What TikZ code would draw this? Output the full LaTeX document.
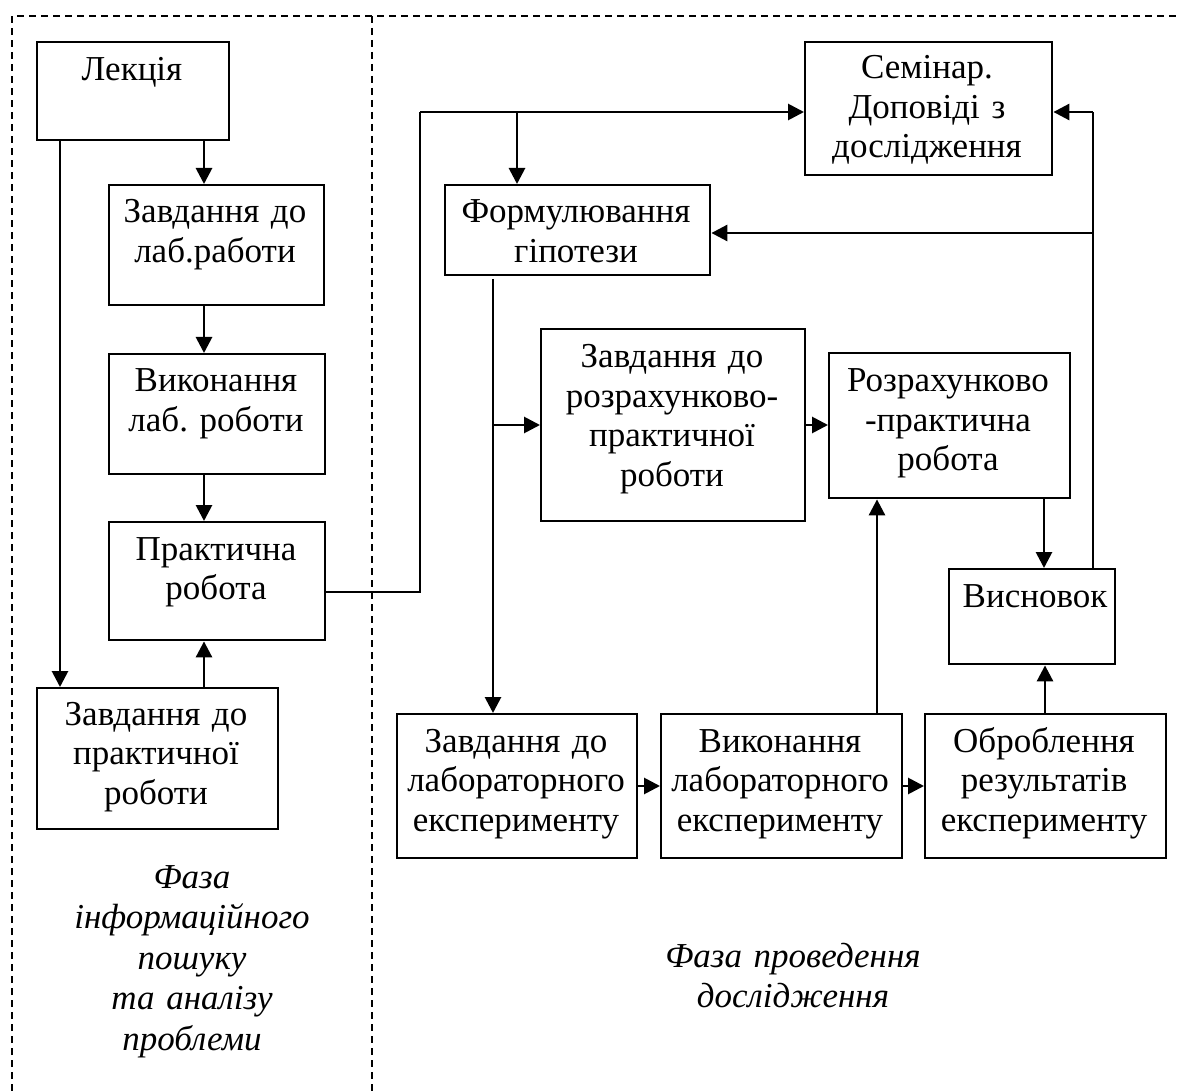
\documentclass[tikz,border=0pt]{standalone}
\usepackage{fontspec}
\setmainfont{Liberation Serif}
\usetikzlibrary{arrows.meta}
\frenchspacing
\begin{document}
\begin{tikzpicture}[x=1pt,y=-1pt,
  box/.style={draw, line width=2.4pt, inner sep=0pt, anchor=north west},
  txt/.style={inner sep=0pt, anchor=base, align=center, font=\fontsize{35}{39.5}\selectfont\frenchspacing},
  itxt/.style={inner sep=0pt, anchor=base, align=center, font=\fontsize{35}{40.5}\selectfont\itshape},
  arr/.style={line width=2.8pt, -{Triangle[length=16pt,width=16pt]}},
  ln/.style={line width=2.8pt},
  thinln/.style={line width=2pt},
  frame/.style={line width=1.7pt, dash pattern=on 7pt off 5pt}]
\useasboundingbox (0,0) rectangle (1179,1091);

% dashed frame
\draw[frame] (12,1091) -- (12,16) -- (1179,16);
\draw[frame] (372,16) -- (372,1091);

% boxes
\node[box, minimum width=192pt, minimum height=98pt]  (lek)   at (36,41)   {};
\node[box, minimum width=215pt, minimum height=120pt] (zlab)  at (108,184) {};
\node[box, minimum width=216pt, minimum height=120pt] (vlab)  at (108,353) {};
\node[box, minimum width=216pt, minimum height=118pt] (prak)  at (108,521) {};
\node[box, minimum width=241pt, minimum height=141pt] (zprak) at (36,687)  {};
\node[box, minimum width=247pt, minimum height=133pt] (sem)   at (804,41)  {};
\node[box, minimum width=265pt, minimum height=90pt]  (form)  at (444,184) {};
\node[box, minimum width=264pt, minimum height=192pt] (zroz)  at (540,328) {};
\node[box, minimum width=241pt, minimum height=145pt] (rozr)  at (828,352) {};
\node[box, minimum width=166pt, minimum height=95pt]  (visn)  at (948,568) {};
\node[box, minimum width=240pt, minimum height=144pt] (zlabe) at (396,713) {};
\node[box, minimum width=241pt, minimum height=144pt] (vlabe) at (660,713) {};
\node[box, minimum width=241pt, minimum height=144pt] (obr)   at (924,713) {};

% texts
\node[txt, text width=190pt] (lek-t)   at (132,81)  {Лекція};
\node[txt, text width=213pt] (zlab-t)  at (215,223) {Завдання до\\лаб.работи};
\node[txt, text width=214pt] (vlab-t)  at (216,392) {Виконання\\лаб. роботи};
\node[txt, text width=214pt] (prak-t)  at (216,560) {Практична\\робота};
\node[txt, text width=239pt] (zprak-t) at (156,725) {Завдання до\\практичної\\роботи};
\node[txt, text width=245pt] (sem-t)   at (927,79)  {Семінар.\\Доповіді з\\дослідження};
\node[txt, text width=263pt] (form-t)  at (576,223) {Формулювання\\гіпотези};
\node[txt, text width=262pt] (zroz-t)  at (672,368) {Завдання до\\розрахунково-\\практичної\\роботи};
\node[txt, text width=239pt] (rozr-t)  at (948,392) {Розрахунково\\-практична\\робота};
\node[txt, text width=164pt] (visn-t)  at (1035,607) {Висновок};
\node[txt, text width=238pt] (zlabe-t) at (516,752) {Завдання до\\лабораторного\\експерименту};
\node[txt, text width=239pt] (vlabe-t) at (780,752) {Виконання\\лабораторного\\експерименту};
\node[txt, text width=239pt] (obr-t)   at (1044,752) {Оброблення\\результатів\\експерименту};

\node[itxt, text width=300pt] (phase1) at (192,888) {Фаза\\інформаційного\\пошуку\\та аналізу\\проблеми};
\node[itxt, text width=400pt] (phase2) at (793,967) {Фаза проведення\\дослідження};

% left column connectors
\draw[arr] (lek.south -| 204,0) -- (zlab.north -| 204,0);
\draw[arr] (lek.south -| 60,0) -- (zprak.north -| 60,0);
\draw[arr] (zlab.south -| 204,0) -- (vlab.north -| 204,0);
\draw[arr] (vlab.south -| 204,0) -- (prak.north -| 204,0);
\draw[arr] (zprak.north -| 204,0) -- (prak.south -| 204,0);

% practical work -> seminar
\coordinate (c1) at (420,112);
\draw[thinln] (prak.east |- 0,592) -- (c1 |- 0,592) -- (c1);
\draw[arr] (c1) -- (sem.west |- c1);
\coordinate (j1) at (517,112);
\draw[arr] (j1) -- (form.north -| j1);

% conclusion -> seminar, hypothesis
\coordinate (c2) at (1093,112);
\draw[ln] (visn.north -| c2) -- (c2);
\draw[arr] (c2) -- (sem.east |- c2);
\coordinate (j2) at (1093,233);
\draw[arr] (j2) -- (form.east |- j2);

% hypothesis -> lab experiment, calc task
\coordinate (c3) at (493,279);
\draw[arr] (c3) -- (zlabe.north -| c3);
\coordinate (j3) at (493,425);
\draw[arr] (j3) -- (zroz.west |- j3);
\draw[arr] (zroz.east |- 0,425) -- (rozr.west |- 0,425);
\draw[arr] (rozr.south -| 1044,0) -- (visn.north -| 1044,0);

% bottom row
\draw[arr] (zlabe.east |- 0,786) -- (vlabe.west |- 0,786);
\draw[arr] (vlabe.east |- 0,786) -- (obr.west |- 0,786);
\draw[arr] (vlabe.north -| 877,0) -- (rozr.south -| 877,0);
\draw[arr] (obr.north -| 1045,0) -- (visn.south -| 1045,0);
\end{tikzpicture}
\end{document}
